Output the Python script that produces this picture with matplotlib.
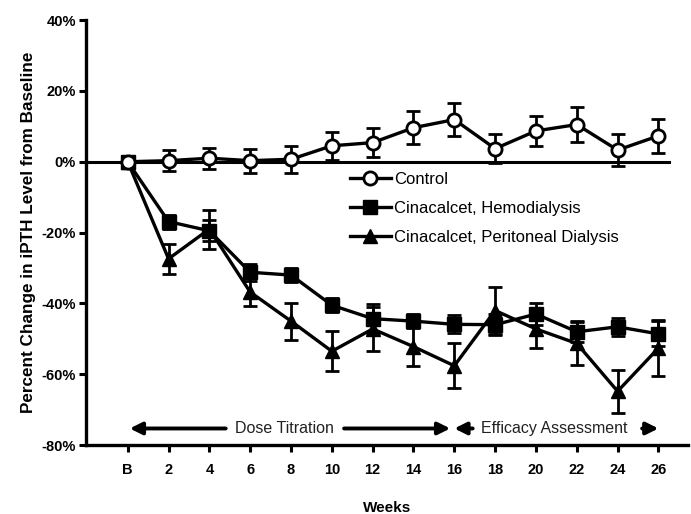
import matplotlib.pyplot as plt
from matplotlib.lines import Line2D
import numpy as np

plt.rcParams['font.family'] = ['Liberation Sans', 'DejaVu Sans']

# weeks (B = baseline)
weeks = ['B', '2', '4', '6', '8', '10', '12', '14', '16', '18', '20', '22', '24', '26']

# percent change from baseline, and SE
control = [0, 0.3, 1.0, 0.3, 0.7, 4.5, 5.4, 9.6, 11.9, 3.7, 8.7, 10.5, 3.3, 7.3]
control_err = [0, 3.0, 3.0, 3.4, 3.8, 4.0, 4.0, 4.7, 4.7, 4.0, 4.2, 5.0, 4.4, 4.9]

hemo = [0, -16.9, -19.5, -31.2, -32.0, -40.5, -44.3, -45.0, -45.9, -46.0, -43.0, -48.0, -46.6, -48.6]
hemo_err = [0, 2.0, 3.0, 2.4, 2.0, 2.0, 4.0, 2.0, 2.5, 3.0, 3.0, 3.0, 2.5, 3.5]

pd_vals = [0, -27.4, -19.0, -36.8, -45.0, -53.5, -47.2, -52.2, -57.6, -42.0, -47.2, -51.3, -64.8, -52.6]
pd_err = [0, 4.2, 5.5, 4.0, 5.2, 5.7, 6.2, 5.6, 6.4, 6.5, 5.5, 6.0, 6.0, 7.8]

x = np.arange(len(weeks))

fig = plt.figure(figsize=(6.91, 5.14), dpi=100)
ax = fig.add_axes([0.124, 0.134, 0.872, 0.827])

ax.axhline(0, xmin=0, xmax=(13.27 + 1.03) / (13.73 + 1.03), color='black', lw=2.2, zorder=1)

style = dict(color='black', lw=2.4, elinewidth=2.0, capsize=5, capthick=2.0, markersize=9.5)
ax.errorbar(x, hemo, yerr=hemo_err, marker='s', markerfacecolor='black', zorder=3, **style)
ax.errorbar(x, pd_vals, yerr=pd_err, marker='^', markerfacecolor='black', zorder=3, **style)
ax.errorbar(x, control, yerr=control_err, marker='o', markerfacecolor='white',
            markeredgewidth=2.0, zorder=4, **style)

ax.set_xlim(-1.03, 13.73)
ax.set_ylim(-80, 40)
ax.set_xticks(x)
ax.set_xticklabels(weeks)
ax.set_yticks([40, 20, 0, -20, -40, -60, -80])
ax.set_yticklabels(['40%', '20%', '0%', '-20%', '-40%', '-60%', '-80%'])
for lbl in ax.get_xticklabels() + ax.get_yticklabels():
    lbl.set_fontweight('bold')
    lbl.set_fontsize(10.5)
ax.tick_params(axis='x', length=5, width=2.2, pad=8)
ax.tick_params(axis='y', length=5, width=2.2, pad=2)

for s in ['top', 'right']:
    ax.spines[s].set_visible(False)
for s in ['left', 'bottom']:
    ax.spines[s].set_linewidth(2.4)

ax.set_xlabel('Weeks', fontsize=11, fontweight='bold', labelpad=17)
ax.set_ylabel('Percent Change in iPTH Level from Baseline', fontsize=12.3,
              fontweight='bold', labelpad=4)

# phase arrows
ay = -75.3
arrow_kw = dict(arrowstyle='-|>', lw=2.8, color='black', mutation_scale=18, shrinkA=0, shrinkB=0)
ax.text(3.85, ay, 'Dose Titration', ha='center', va='center', fontsize=11.5, color='#222222')
ax.annotate('', xy=(0.05, ay), xytext=(2.4, ay), arrowprops=arrow_kw)
ax.annotate('', xy=(7.9, ay), xytext=(5.3, ay), arrowprops=arrow_kw)
ax.text(10.45, ay, 'Efficacy Assessment', ha='center', va='center', fontsize=11.5, color='#222222')
ax.annotate('', xy=(8.0, ay), xytext=(8.45, ay), arrowprops=arrow_kw)
ax.annotate('', xy=(13.0, ay), xytext=(12.6, ay), arrowprops=arrow_kw)

handles = [
    Line2D([], [], color='black', lw=2.4, marker='o', markersize=9.5,
           markerfacecolor='white', markeredgewidth=2.0),
    Line2D([], [], color='black', lw=2.4, marker='s', markersize=9.5),
    Line2D([], [], color='black', lw=2.4, marker='^', markersize=9.5),
]
labels = ['Control', 'Cinacalcet, Hemodialysis', 'Cinacalcet, Peritoneal Dialysis']
ax.legend(handles, labels, loc='upper left', bbox_to_anchor=(0.427, 0.659), frameon=False,
          fontsize=12, handlelength=2.5, handletextpad=0.15, labelspacing=0.85,
          borderaxespad=0)

fig.savefig('out.png', dpi=100)
